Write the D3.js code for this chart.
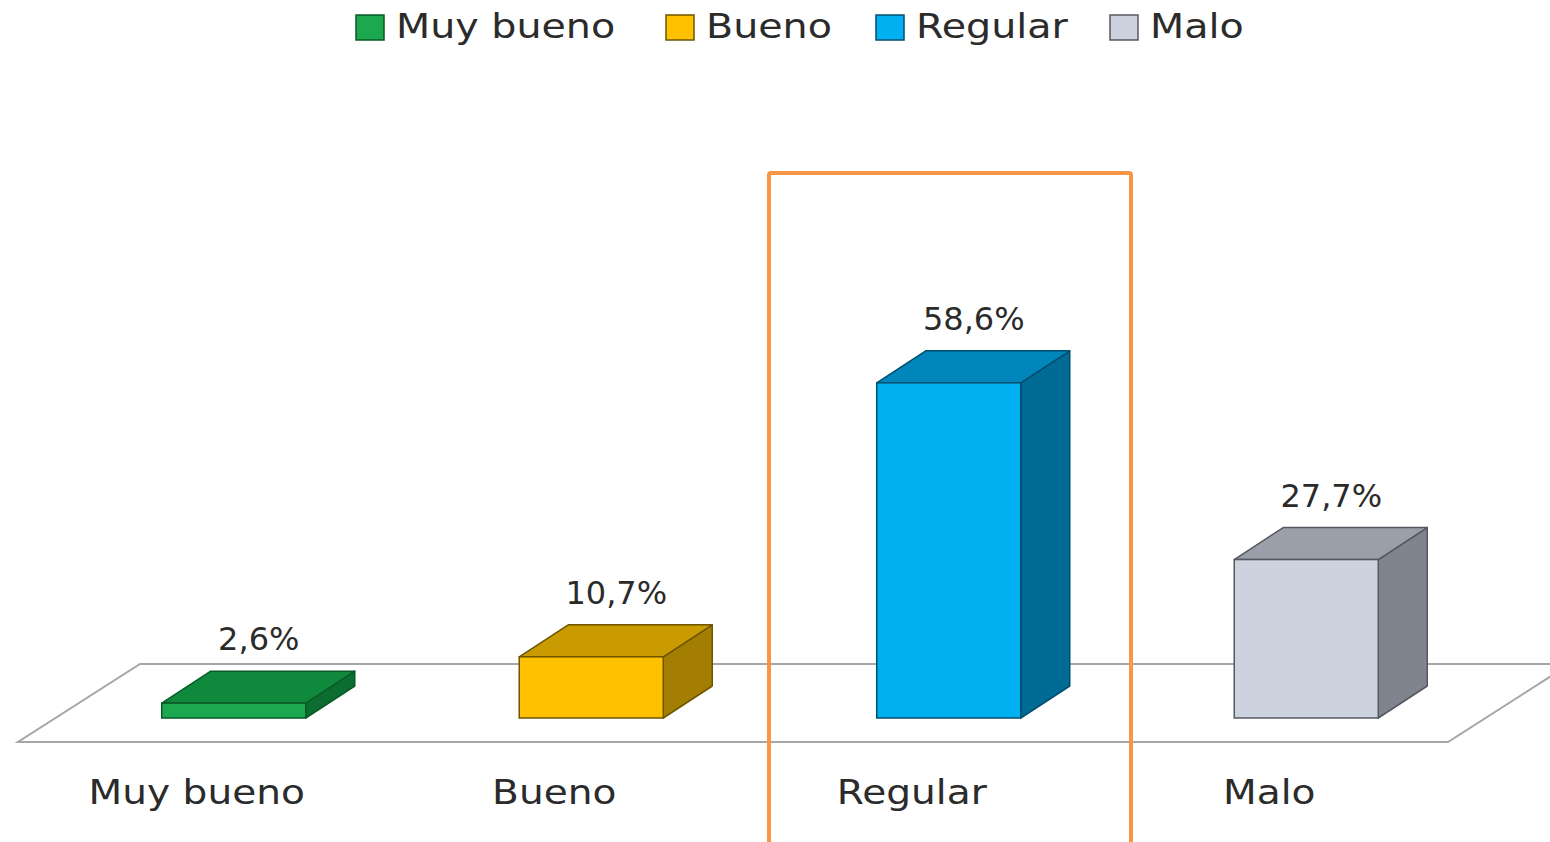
<!DOCTYPE html>
<html><head><meta charset="utf-8">
<script src="https://cdn.jsdelivr.net/npm/d3@7"></script>
<style>html,body{margin:0;padding:0;background:#fff;}svg{display:block;}</style>
</head><body>
<svg id="c" width="1550" height="842"></svg>
<script>
const categories = ["Muy bueno", "Bueno", "Regular", "Malo"];
const values = [2.6, 10.7, 58.6, 27.7];
const valueLabels = ["2,6%", "10,7%", "58,6%", "27,7%"];
const frontColors = ["#1ba84f", "#ffc000", "#00b0f0", "#cdd3de"];
const topColors = ["#0f8a3d", "#c99b00", "#0086ba", "#9b9fa9"];
const sideColors = ["#0b6e30", "#a37e00", "#006b94", "#80848e"];
const edgeColors = ["#0a5a27", "#6e5500", "#004f6e", "#555860"];

const svg = d3.select("#c");

const floorFrontY = 742, floorDepthX = 122, floorDepthY = -78;
const barOffX = 37, barOffY = -24, barDepthX = 49, barDepthY = -32;

const x = d3.scaleBand().domain(categories).range([18, 1448]).paddingInner(0).paddingOuter(0);
const baseY = floorFrontY + barOffY;
const y = d3.scaleLinear().domain([0, 60]).range([baseY, baseY - 60 * 5.72]);
const barW = 144;

// floor
const floor = svg.append("g");
const fl = x.range()[0], fr = x.range()[1];
floor.append("path")
  .attr("d", `M${fl},${floorFrontY} L${fr},${floorFrontY} L${fr + floorDepthX},${floorFrontY + floorDepthY} L${fl + floorDepthX},${floorFrontY + floorDepthY} Z`)
  .attr("fill", "#fff").attr("stroke", "#a6a6a6").attr("stroke-width", 2);

// bars
const bars = svg.append("g").selectAll("g").data(categories).enter().append("g");
bars.each(function(c, i) {
  const g = d3.select(this);
  const x0 = x(c) + (x.bandwidth() - barW) / 2 + barOffX;
  const x1 = x0 + barW;
  const yt = y(values[i]), yb = y(0);
  const dx = barDepthX, dy = barDepthY;
  g.append("path").attr("d", `M${x1},${yt} L${x1 + dx},${yt + dy} L${x1 + dx},${yb + dy} L${x1},${yb} Z`)
    .attr("fill", sideColors[i]).attr("stroke", edgeColors[i]).attr("stroke-width", 1.5).attr("stroke-linejoin", "round");
  g.append("path").attr("d", `M${x0},${yt} L${x0 + dx},${yt + dy} L${x1 + dx},${yt + dy} L${x1},${yt} Z`)
    .attr("fill", topColors[i]).attr("stroke", edgeColors[i]).attr("stroke-width", 1.5).attr("stroke-linejoin", "round");
  g.append("rect").attr("x", x0).attr("y", yt).attr("width", barW).attr("height", yb - yt)
    .attr("fill", frontColors[i]).attr("stroke", edgeColors[i]).attr("stroke-width", 1.5);
  g.append("text").attr("transform", `translate(${x0 + barW / 2 + 25},${yt + dy - 21})`)
    .attr("text-anchor", "middle").attr("font-family", "DejaVu Sans").attr("font-size", 32)
    .attr("fill", "#2b2b2b").text(valueLabels[i]);
});

// category labels
svg.append("g").selectAll("text").data(categories).enter().append("text")
  .attr("transform", d => `translate(${x(d) + x.bandwidth() / 2},804) scale(1.15,1)`)
  .attr("text-anchor", "middle").attr("font-family", "DejaVu Sans").attr("font-size", 34)
  .attr("fill", "#2b2b2b").text(d => d);

// legend
const legendX = [356, 666, 876, 1110];
const leg = svg.append("g");
categories.forEach((c, i) => {
  leg.append("rect").attr("x", legendX[i]).attr("y", 15).attr("width", 28).attr("height", 25)
    .attr("fill", frontColors[i]).attr("stroke", edgeColors[i]).attr("stroke-width", 1.5);
  leg.append("text").attr("transform", `translate(${legendX[i] + 40},38) scale(1.2,1)`)
    .attr("font-family", "DejaVu Sans").attr("font-size", 33).attr("fill", "#2b2b2b").text(c);
});

// highlight rectangle
svg.append("rect").attr("x", 769).attr("y", 173).attr("width", 362).attr("height", 700)
  .attr("fill", "none").attr("stroke", "#f79646").attr("stroke-width", 4).attr("rx", 2);
</script>
</body></html>
